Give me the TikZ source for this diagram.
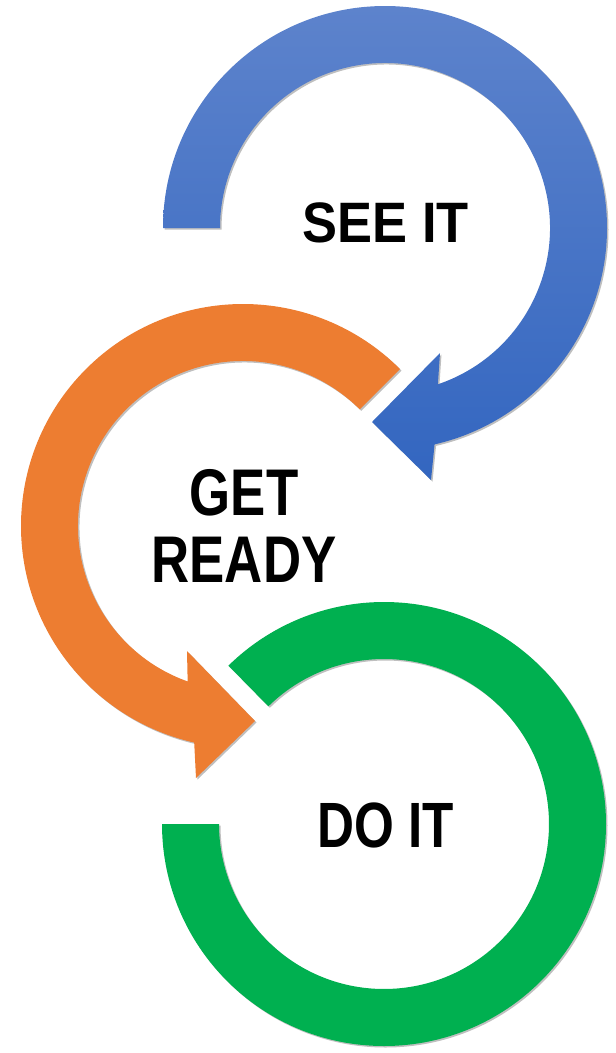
\documentclass[tikz,border=0pt]{standalone}
\usepackage{fontspec}
\newfontfamily\labelfont[FakeStretch=0.8]{Liberation Sans}
\newfontfamily\labelwide[FakeStretch=0.92]{Liberation Sans}
\usetikzlibrary{calc,shadows}
\definecolor{seeblue}{HTML}{5D83CC}
\definecolor{seebluedark}{HTML}{3366C0}
\definecolor{readyorange}{HTML}{ED7D31}
\definecolor{dogreen}{HTML}{00B050}

\begin{document}
\begin{tikzpicture}[x=1pt, y=-1pt,
    band/.style={drop shadow={shadow xshift=1.5pt, shadow yshift=-1.5pt, opacity=0.25, fill=black}},
    word/.style={inner sep=0pt, text=black, align=center}]
  \useasboundingbox (0,0) rectangle (616,1053);
  \coordinate (bc) at (385,228);
  \coordinate (oc) at (243,526);
  \coordinate (gc) at (384,824);
  \fill[band, dogreen] ($(gc)+(180:222)$) arc[start angle=180, end angle=-134.5, radius=222]
    -- ($(gc)+(-134.5:165)$) arc[start angle=-134.5, end angle=180, radius=165] -- cycle;
  \fill[band, readyorange] ($(oc)+(-45:222)$) arc[start angle=-45, end angle=-257.3, radius=222]
    -- (196,778) -- (255,721) -- (187,651)
    -- ($(oc)+(-250.4:165)$) arc[start angle=-250.4, end angle=-45, radius=165] -- cycle;
  \shade[band, top color=seeblue, bottom color=seebluedark] ($(bc)+(180:222)$) arc[start angle=180, end angle=437.1, radius=222]
    -- (431,480) -- (372,422) -- (440,353)
    -- ($(bc)+(431.3:165)$) arc[start angle=431.3, end angle=180, radius=165] -- cycle;
  \node[word, font=\labelwide\fontsize{57}{60}\selectfont\bfseries] (see) at (386,223) {SEE IT};
  \node[word, font=\labelfont\fontsize{66}{67}\selectfont\bfseries] (ready) at (244,525.5) {GET\\READY};
  \node[word, font=\labelfont\fontsize{64}{67}\selectfont\bfseries] (doit) at (386,825) {DO IT};
\end{tikzpicture}
\end{document}
